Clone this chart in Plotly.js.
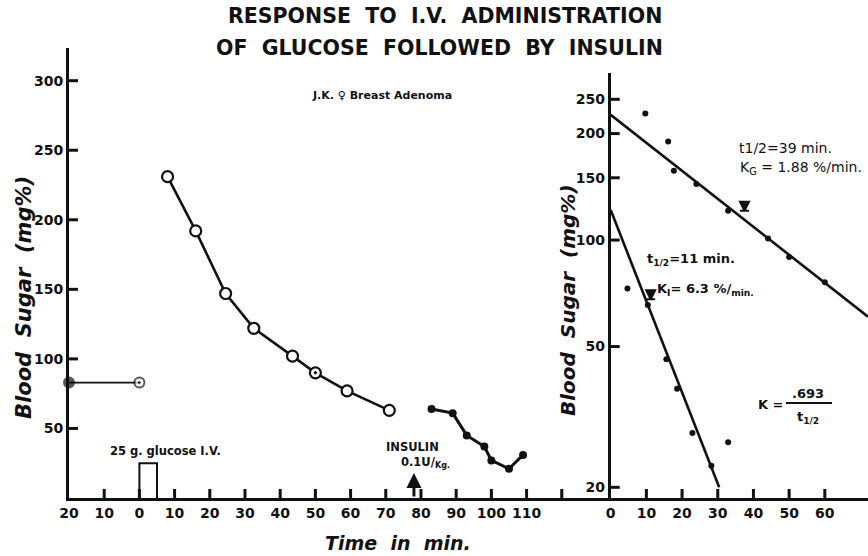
<!DOCTYPE html>
<html>
<head>
<meta charset="utf-8">
<script src="https://cdn.plot.ly/plotly-3.0.1.min.js"></script>
<style>html,body{margin:0;padding:0;background:#fff;}#chart{width:868px;height:556px;}</style>
</head>
<body>
<div id="chart"></div>
<script>
// ---------- data (left panel: time in min, blood sugar mg%) ----------
var fastingTime = [-20, 0];
var fastingSugar = [83, 83];
var glucoseTime = [8, 16, 24.5, 32.5, 43.5, 50, 59, 71];
var glucoseSugar = [231, 192, 147, 122, 102, 90, 77, 63];
var insulinTime = [83, 89, 93, 98, 100, 105, 109];
var insulinSugar = [64, 61, 45, 37, 27, 21, 31];
var glucoseDoseStart = 0, glucoseDoseEnd = 5, glucoseDoseHeight = 25;
var insulinAt = 78, insulinArrowTop = 18;
var leftXTicks = [-20, -10, 0, 10, 20, 30, 40, 50, 60, 70, 80, 90, 100, 110, 120];
var leftXLabels = ['20', '10', '0', '10', '20', '30', '40', '50', '60', '70', '80', '90', '100', '110', ' '];
var leftYTicks = [50, 100, 150, 200, 250, 300];

// ---------- data (right panel: semilog decay) ----------
var gDecayTime = [9.7, 16.1, 17.7, 24.0, 32.9, 44.1, 50.0, 60.0];
var gDecaySugar = [228, 190, 157, 144, 121, 101, 89.5, 76];
var gFitTime = [0, 72.1];
var gFitSugar = [226, 60.7];
var gHalfMarkTime = [37.5], gHalfMarkSugar = [121];
var iDecayTime = [4.7, 10.4, 15.6, 18.6, 22.9, 28.2, 32.9];
var iDecaySugar = [73, 65.5, 46, 38, 28.5, 23, 26.8];
var iFitTime = [0, 30.4];
var iFitSugar = [121.6, 20];
var iHalfMarkTime = [11.2], iHalfMarkSugar = [68];
var rightXTicks = [0, 10, 20, 30, 40, 50, 60];
var rightYTicks = [20, 50, 100, 150, 200, 250];

// ---------- layout helpers ----------
var W = 868, H = 556, L = 69, R = 0, T = 48, B = 58;
var PW = W - L - R, PH = H - T - B;
function P(x, y) { return {xref: 'paper', yref: 'paper', x: (x - L) / PW, y: (H - B - y) / PH}; }
var FAM = 'DejaVu Sans, Verdana, sans-serif';
function ann(x, y, text, font, extra) {
  var a = P(x, y);
  a.text = text; a.showarrow = false; a.font = font; a.xanchor = 'center'; a.yanchor = 'middle';
  if (extra) for (var k in extra) a[k] = extra[k];
  return a;
}
var blk = '#111';

var traces = [
  {x: fastingTime, y: fastingSugar, xaxis: 'x', yaxis: 'y', mode: 'lines+markers', cliponaxis: false,
   line: {color: blk, width: 1.8},
   marker: {symbol: ['circle', 'circle-dot'], size: [10, 10], color: [blk, '#fff'], line: {color: blk, width: 2}}},
  {x: glucoseTime, y: glucoseSugar, xaxis: 'x', yaxis: 'y', mode: 'lines+markers', cliponaxis: false,
   line: {color: blk, width: 2.6},
   marker: {symbol: ['circle', 'circle', 'circle', 'circle', 'circle', 'circle-dot', 'circle', 'circle'], size: 11, color: '#fff', line: {color: blk, width: 2.2}}},
  {x: insulinTime, y: insulinSugar, xaxis: 'x', yaxis: 'y', mode: 'lines+markers', cliponaxis: false,
   line: {color: blk, width: 3},
   marker: {symbol: 'circle', size: 8, color: blk}},
  {x: [glucoseDoseStart, glucoseDoseStart, glucoseDoseEnd, glucoseDoseEnd],
   y: [0, glucoseDoseHeight, glucoseDoseHeight, 0], xaxis: 'x', yaxis: 'y', mode: 'lines',
   line: {color: blk, width: 2}},
  // right panel
  {x: gFitTime, y: gFitSugar, xaxis: 'x2', yaxis: 'y2', mode: 'lines', line: {color: blk, width: 2.6}, cliponaxis: false},
  {x: iFitTime, y: iFitSugar, xaxis: 'x2', yaxis: 'y2', mode: 'lines', line: {color: blk, width: 2.6}},
  {x: gDecayTime, y: gDecaySugar, xaxis: 'x2', yaxis: 'y2', mode: 'markers', marker: {size: 6, color: blk}},
  {x: iDecayTime, y: iDecaySugar, xaxis: 'x2', yaxis: 'y2', mode: 'markers', marker: {size: 6, color: blk}},
  {x: gHalfMarkTime.concat(iHalfMarkTime), y: gHalfMarkSugar.concat(iHalfMarkSugar), xaxis: 'x2', yaxis: 'y2', mode: 'markers',
   marker: {symbol: 'arrow-bar-down', size: 9, color: blk, line: {color: blk, width: 2}}}
];

var tickFont = {family: FAM, size: 14, color: blk, weight: 'bold'};
var axBase = {showgrid: false, zeroline: false, showline: true, linecolor: blk, linewidth: 3,
  ticks: '', tickfont: tickFont, fixedrange: true};
function ax(o) { var r = {}; for (var k in axBase) r[k] = axBase[k]; for (var k2 in o) r[k2] = o[k2]; return r; }

var splitX = (610.7 - L) / PW;
var TL = 9; // inward tick length, px (from the axis centre line)
var tickLine = {color: blk, width: 3};
var shapes = [];
leftXTicks.forEach(function (v) { if (v > -20) shapes.push({type: 'line', layer: 'above', xref: 'x', yref: 'paper', x0: v, x1: v, y0: 0, y1: TL / PH, line: tickLine}); });
leftYTicks.forEach(function (v) { shapes.push({type: 'line', layer: 'above', xref: 'paper', yref: 'y', x0: 0, x1: TL / PW, y0: v, y1: v, line: tickLine}); });
rightXTicks.forEach(function (v) { if (v > 0) shapes.push({type: 'line', layer: 'above', xref: 'x2', yref: 'paper', x0: v, x1: v, y0: 0, y1: TL / PH, line: tickLine}); });
rightYTicks.forEach(function (v) { shapes.push({type: 'line', layer: 'above', xref: 'paper', yref: 'y2', x0: splitX, x1: splitX + TL / PW, y0: v, y1: v, line: tickLine}); });
(function () { var a = P(786, 403), b = P(832, 403);
  shapes.push({type: 'line', xref: 'paper', yref: 'paper', x0: a.x, y0: a.y, x1: b.x, y1: b.y, line: {color: blk, width: 2}}); })();

var layout = {
  width: W, height: H, margin: {l: L, r: R, t: T, b: B}, showlegend: false,
  paper_bgcolor: '#fff', plot_bgcolor: 'rgba(0,0,0,0)',
  xaxis: ax({domain: [0, splitX], range: [-20, 133.9], tickmode: 'array', tickvals: leftXTicks, ticktext: leftXLabels, anchor: 'y'}),
  yaxis: ax({domain: [0, 1], range: [0, 323.5], tickmode: 'array', tickvals: leftYTicks, anchor: 'x'}),
  xaxis2: ax({domain: [splitX, 1], range: [0, 72.1], tickmode: 'array', tickvals: rightXTicks, anchor: 'y2'}),
  yaxis2: ax({domain: [0, (H - B - 73) / PH], type: 'log', range: [1.2708, 2.4723], tickmode: 'array', tickvals: rightYTicks, ticktext: rightYTicks.map(String), anchor: 'x2'}),
  annotations: [
    ann(445, 16, 'RESPONSE  TO  I.V.  ADMINISTRATION', {family: FAM, size: 20.5, color: blk, weight: 'bold'}),
    ann(439, 48, 'OF  GLUCOSE  FOLLOWED  BY  INSULIN', {family: FAM, size: 20.5, color: blk, weight: 'bold'}),
    ann(382, 95, 'J.K. \u2640 Breast Adenoma', {family: FAM, size: 11, color: blk, weight: 'bold'}),
    ann(165, 451, '25 g. glucose I.V.', {family: FAM, size: 11.5, color: blk, weight: 'bold'}),
    ann(412, 447, 'INSULIN', {family: FAM, size: 11.5, color: blk, weight: 'bold'}),
    ann(425, 462, '0.1U/<sub>Kg.</sub>', {family: FAM, size: 11.5, color: blk, weight: 'bold'}),
    ann(24, 298, 'Blood  Sugar  (mg%)', {family: FAM, size: 21, color: blk, weight: 'bold', style: 'italic'}, {textangle: -90}),
    ann(568, 300, 'Blood  Sugar  (mg%)', {family: FAM, size: 20, color: blk, weight: 'bold', style: 'italic'}, {textangle: -90}),
    ann(398, 543, 'Time  in  min.', {family: FAM, size: 19, color: blk, weight: 'bold', style: 'italic'}),
    ann(785, 148, 't1/2=39 min.', {family: FAM, size: 14, color: blk}),
    ann(801, 168, 'K<sub>G</sub> = 1.88 %/min.', {family: FAM, size: 14, color: blk}),
    ann(691, 259, 't<sub>1/2</sub>=11 min.', {family: FAM, size: 13, color: blk, weight: 'bold'}),
    ann(705, 289, 'K<sub>I</sub>= 6.3 %/<sub>min.</sub>', {family: FAM, size: 13, color: blk, weight: 'bold'}),
    ann(771, 404, 'K =', {family: FAM, size: 13, color: blk, weight: 'bold'}),
    ann(808, 393, '.693', {family: FAM, size: 13, color: blk, weight: 'bold'}),
    ann(808, 417, 't<sub>1/2</sub>', {family: FAM, size: 13, color: blk, weight: 'bold'}),
    // insulin injection arrow
    {xref: 'x', yref: 'y', x: insulinAt, y: insulinArrowTop, axref: 'x', ayref: 'y', ax: insulinAt, ay: 0,
     showarrow: true, arrowhead: 2, arrowsize: 1, arrowwidth: 3, arrowcolor: blk, text: ''}
  ],
  shapes: shapes
};

Plotly.newPlot('chart', traces, layout, {displayModeBar: false, staticPlot: true});
</script>
</body>
</html>
